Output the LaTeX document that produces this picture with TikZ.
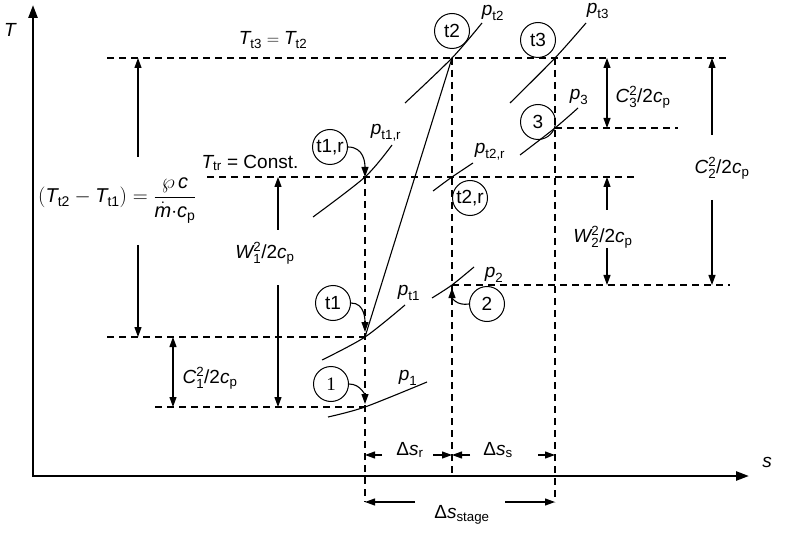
\documentclass[tikz,border=0pt]{standalone}
\usepackage{amsmath}
\usepackage{fontspec}
\setmainfont{Liberation Sans}
\newfontfamily\serifnum{Liberation Serif}
\usetikzlibrary{arrows.meta}
\newcommand{\iv}[1]{\text{\itshape #1}}
\begin{document}
\begin{tikzpicture}[x=1pt,y=-1pt,
  lbl/.style={font=\fontsize{19}{22}\selectfont, inner sep=0pt},
  state/.style={draw, circle, line width=1pt, minimum size=35pt, inner sep=0pt, font=\fontsize{19}{22}\selectfont},
  dline/.style={line width=1.1pt, dash pattern=on 7pt off 5pt},
  thinl/.style={line width=1.1pt},
  tip/.style={thinl, -{Triangle[length=10pt,width=7pt]}},
  dtip/.style={thinl, {Triangle[length=10pt,width=7pt]}-{Triangle[length=10pt,width=7pt]}},
  isobar/.style={line width=1.1pt},
  axis/.style={line width=2.5pt, {Triangle[length=13pt,width=9pt]}-{Triangle[length=13pt,width=9pt]}}
]
\useasboundingbox (0,0) rectangle (800,537);

% axes
\coordinate (Ty) at (33,5);
\coordinate (O) at (33,476);
\coordinate (Sx) at (749,476);
\draw[axis] (Ty) -- (O) -- (Sx);
\node[lbl] (Tlab) at (10,30) {\iv{T}};
\node[lbl] (slab) at (767,462) {\iv{s}};

% state points
\coordinate (P1) at (365,407);
\coordinate (Pt1) at (365,337);
\coordinate (Pt1r) at (365,177);
\coordinate (Pt2r) at (452,177);
\coordinate (P2) at (452,285);
\coordinate (Pt2) at (452,58);
\coordinate (Pt3) at (555,58);
\coordinate (P3) at (555,128);

% dashed horizontal lines
\coordinate (h58a) at (107,58);  \coordinate (h58b) at (730,58);
\coordinate (h177a) at (207,177); \coordinate (h177b) at (638,177);
\coordinate (h337a) at (107,337);
\coordinate (h407a) at (155,407);
\coordinate (h128b) at (678,128);
\coordinate (h285b) at (730,285);
\draw[dline] (h58a) -- (h58b);
\draw[dline] (h177a) -- (h177b);
\draw[dline] (h337a) -- (Pt1);
\draw[dline] (h407a) -- (P1);
\draw[dline] (P3) -- (h128b);
\draw[dline] (P2) -- (h285b);

% dashed vertical lines
\coordinate (v1b) at (365,502);
\coordinate (v2b) at (452,476);
\coordinate (v3b) at (555,502);
\draw[dline] (Pt1r) -- (v1b);
\draw[dline] (Pt2) -- (v2b);
\draw[dline] (Pt3) -- (v3b);

% isobars
\draw[isobar] plot[smooth] coordinates {(405,103) (452,58) (482,23)};
\draw[isobar] plot[smooth] coordinates {(510,103) (555,58) (586,23)};
\draw[isobar] plot[smooth] coordinates {(520,155) (555,128) (578,108)};
\draw[isobar] plot[smooth] coordinates {(313,217) (365,177) (392,145)};
\draw[isobar] plot[smooth] coordinates {(433,191) (452,177) (473,163)};
\draw[isobar] plot[smooth] coordinates {(322,360) (365,337) (405,305)};
\draw[isobar] plot[smooth] coordinates {(432,298) (452,285) (474,267)};
\draw[isobar] plot[smooth] coordinates {(328,417) (365,407) (427,382)};

% process line
\draw[thinl] (Pt2) -- (Pt1);

% isobar labels
\node[lbl] (lpt2) at (493,13) {$\iv{p}_{\text{t2}}$};
\node[lbl] (lpt3) at (598,11) {$\iv{p}_{\text{t3}}$};
\node[lbl] (lp3) at (579,97) {$\iv{p}_{\text{3}}$};
\node[lbl] (lpt1r) at (386,133) {$\iv{p}_{\text{t1,r}}$};
\node[lbl] (lpt2r) at (490,152) {$\iv{p}_{\text{t2,r}}$};
\node[lbl] (lpt1) at (409,293) {$\iv{p}_{\text{t1}}$};
\node[lbl] (lp2) at (494,275) {$\iv{p}_{\text{2}}$};
\node[lbl] (lp1) at (408,378) {$\iv{p}_{\text{1}}$};

% state circles
\node[state] (ct2) at (452,31) {t2};
\node[state] (ct3) at (538,40) {t3};
\node[state] (c3) at (538,122) {3};
\node[state] (ct1r) at (330,147) {t1,r};
\node[state] (ct2r) at (470,198) {t2,r};
\node[state] (ct1) at (333,303) {t1};
\node[state] (c2) at (487,304) {2};
\node[state] (c1) at (331,384) {\serifnum 1};

% pointer arrows
\coordinate (a1e) at (365,404);
\coordinate (at1e) at (365,332);
\coordinate (a2e) at (452,288);
\draw[tip] (ct1r.east) .. controls +(16,0) and +(0,-14) .. (Pt1r);
\draw[tip] (ct1.east) .. controls +(14,0) and +(0,-12) .. (at1e);
\draw[tip] (c1.east) .. controls +(12,0) and +(0,-8) .. (a1e);
\draw[tip] (c2.west) .. controls +(-12,2) and +(0,10) .. (a2e);

% temperature labels
\node[lbl] (lTt3) at (273,40) {$\iv{T}_{\text{t3}} = \iv{T}_{\text{t2}}$};
\node[lbl] (lTtr) at (250,163) {$\iv{T}_{\text{tr}}$ = Const.};
\node[lbl, font=\fontsize{20}{24}\selectfont, anchor=base west] (lform) at (38,203) {$(\iv{T}_{\text{t2}} - \iv{T}_{\text{t1}}) = \dfrac{\wp\,\iv{c}\rule[-4pt]{0pt}{4pt}}{\rule{0pt}{17pt}\dot{\iv{m}}{\cdot}\iv{c}_{\text{p}}}$};

% vertical dimension arrows
\coordinate (L1a) at (138,157); \coordinate (L1b) at (138,58);
\coordinate (L2a) at (138,245); \coordinate (L2b) at (138,337);
\draw[tip] (L1a) -- (L1b);
\draw[tip] (L2a) -- (L2b);

\coordinate (C1a) at (173,337); \coordinate (C1b) at (173,407);
\draw[dtip] (C1a) -- (C1b);
\node[lbl] (lC1) at (210,378) {$\iv{C}^{\text{2}}_{\text{1}}\text{/2}\iv{c}_{\text{p}}$};

\coordinate (W1a) at (278,230); \coordinate (W1b) at (278,177);
\coordinate (W1c) at (278,285); \coordinate (W1d) at (278,407);
\draw[tip] (W1a) -- (W1b);
\draw[tip] (W1c) -- (W1d);
\node[lbl] (lW1) at (265,253) {$\iv{W}^{\text{2}}_{\text{1}}\text{/2}\iv{c}_{\text{p}}$};

\coordinate (C3a) at (607,58); \coordinate (C3b) at (607,128);
\draw[dtip] (C3a) -- (C3b);
\node[lbl] (lC3) at (643,97) {$\iv{C}^{\text{2}}_{\text{3}}\text{/2}\iv{c}_{\text{p}}$};

\coordinate (W2a) at (607,210); \coordinate (W2b) at (607,177);
\coordinate (W2c) at (607,248); \coordinate (W2d) at (607,285);
\draw[tip] (W2a) -- (W2b);
\draw[tip] (W2c) -- (W2d);
\node[lbl] (lW2) at (603,237) {$\iv{W}^{\text{2}}_{\text{2}}\text{/2}\iv{c}_{\text{p}}$};

\coordinate (C2a) at (712,135); \coordinate (C2b) at (712,58);
\coordinate (C2c) at (712,200); \coordinate (C2d) at (712,285);
\draw[tip] (C2a) -- (C2b);
\draw[tip] (C2c) -- (C2d);
\node[lbl] (lC2) at (722,168) {$\iv{C}^{\text{2}}_{\text{2}}\text{/2}\iv{c}_{\text{p}}$};

% horizontal dimension arrows
\coordinate (r1a) at (382,455); \coordinate (r1b) at (365,455);
\coordinate (r2a) at (433,455); \coordinate (r2b) at (452,455);
\coordinate (s1a) at (470,455); \coordinate (s1b) at (452,455);
\coordinate (s2a) at (538,455); \coordinate (s2b) at (555,455);
\coordinate (g1a) at (415,502); \coordinate (g1b) at (365,502);
\coordinate (g2a) at (505,502); \coordinate (g2b) at (555,502);
\draw[tip] (r1a) -- (r1b);
\draw[tip] (r2a) -- (r2b);
\draw[tip] (s1a) -- (s1b);
\draw[tip] (s2a) -- (s2b);
\draw[tip] (g1a) -- (g1b);
\draw[tip] (g2a) -- (g2b);
\node[lbl] (lsr) at (410,450) {$\text{Δ}\iv{s}_{\text{r}}$};
\node[lbl] (lss) at (498,450) {$\text{Δ}\iv{s}_{\text{s}}$};
\node[lbl] (lsg) at (462,515) {$\text{Δ}\iv{s}_{\text{stage}}$};
\end{tikzpicture}
\end{document}
